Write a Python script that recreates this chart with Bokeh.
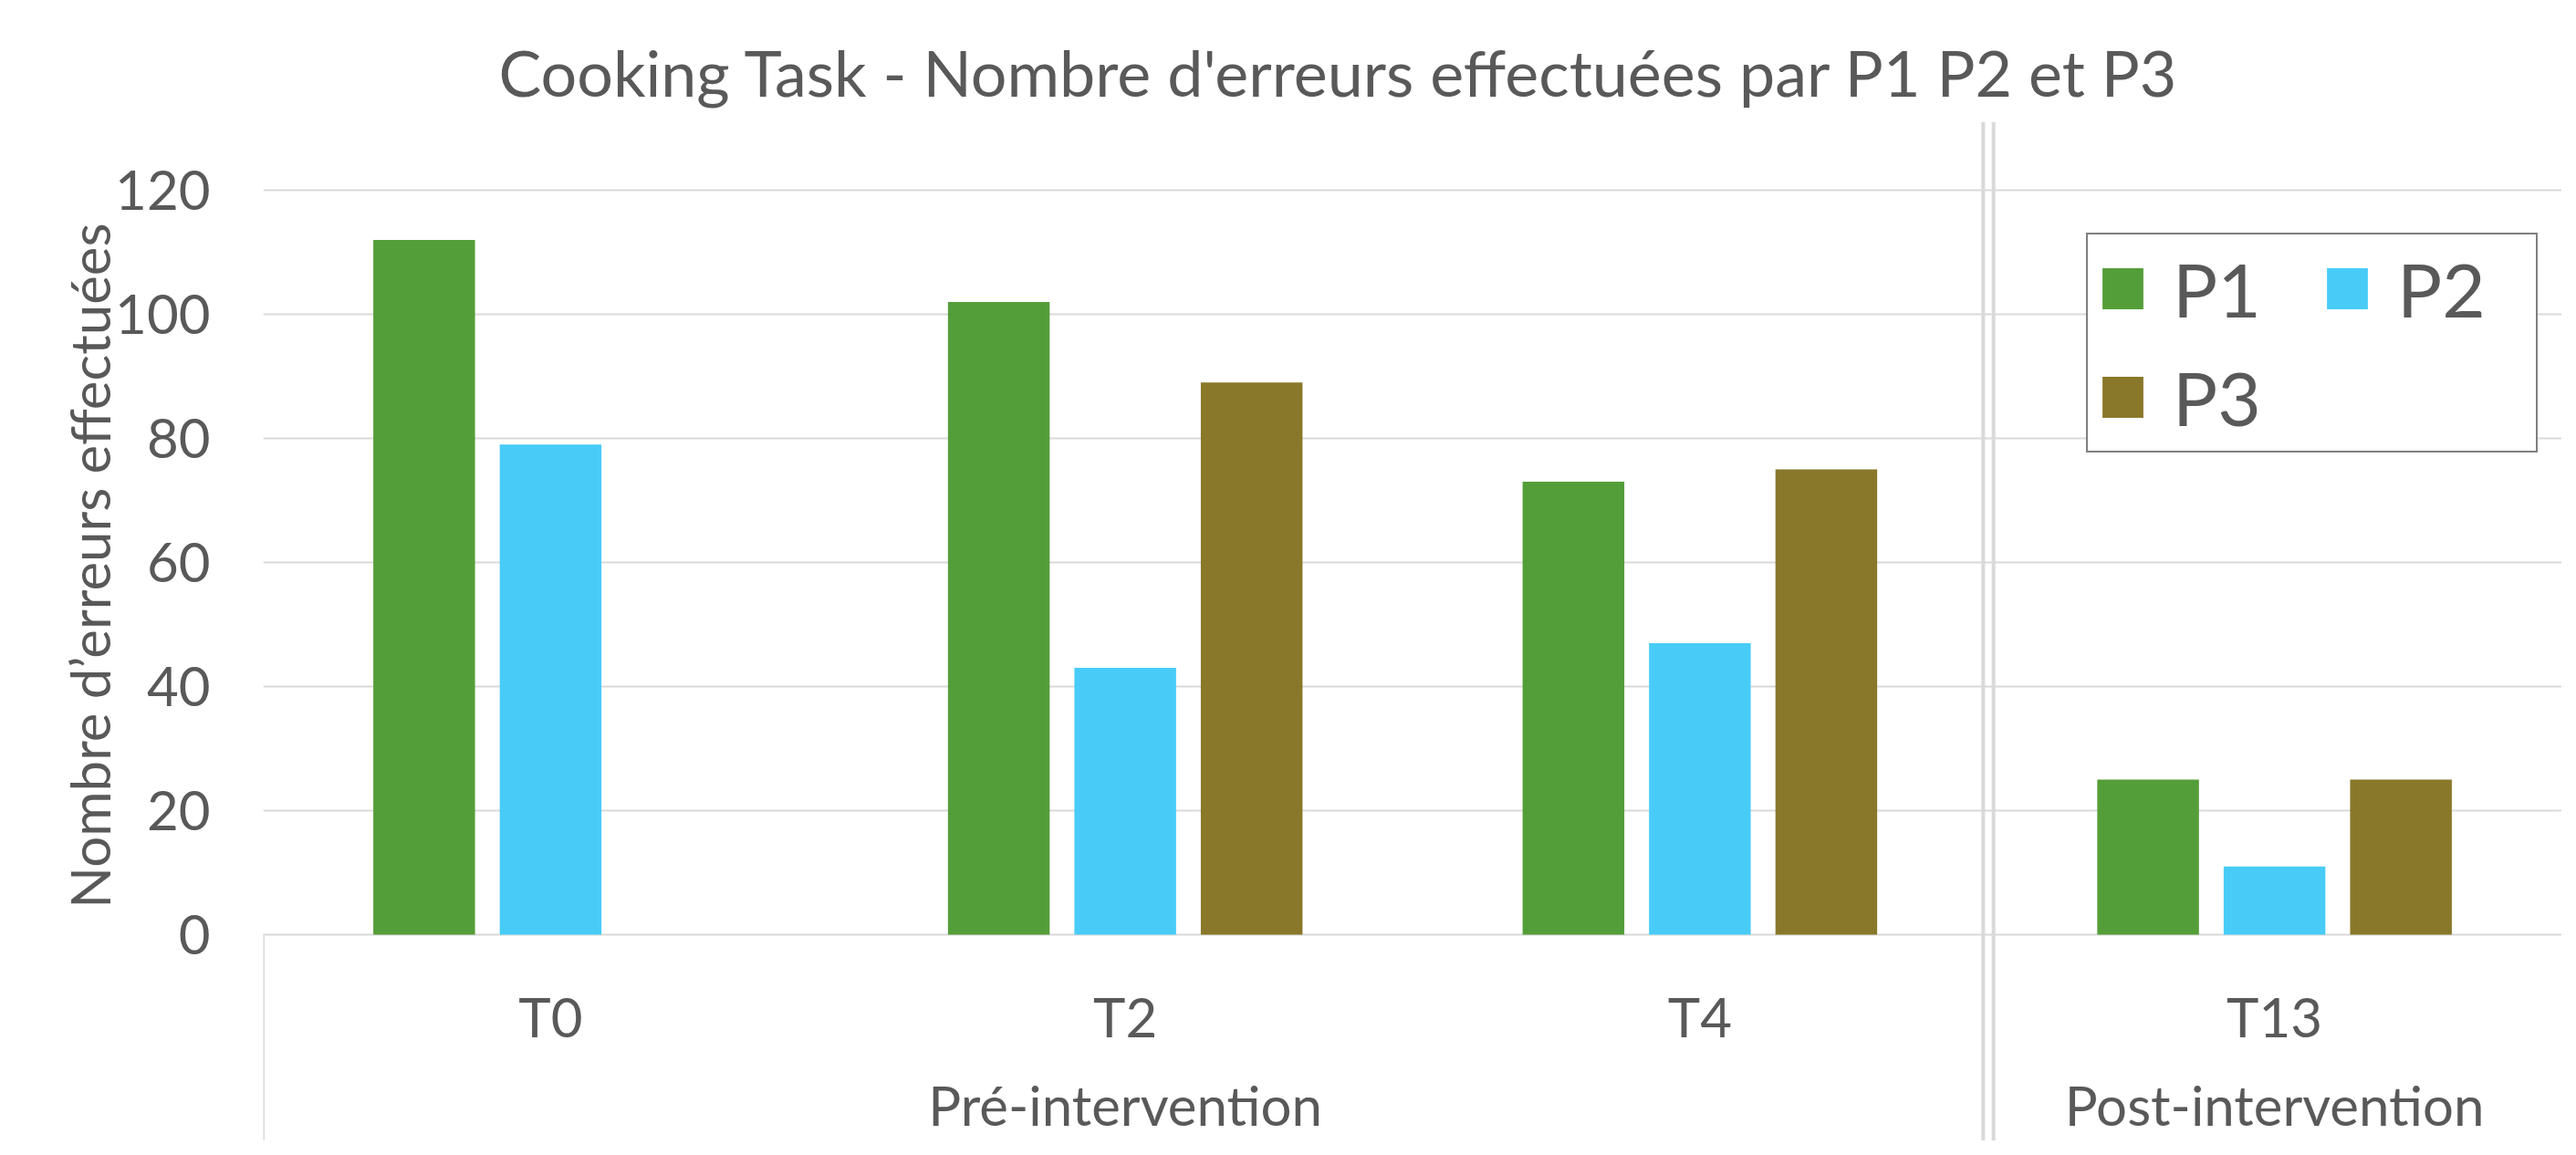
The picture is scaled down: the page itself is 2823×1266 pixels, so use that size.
import math
from bokeh.plotting import figure
from bokeh.models import (FactorRange, Range1d, FixedTicker, CategoricalAxis, Legend,
                          LegendItem, Title, ColumnDataSource, Spacer)
from bokeh.transform import dodge
from bokeh.layouts import row
from bokeh.embed import file_html
from bokeh.resources import INLINE

# ---------------- data ----------------
title_text = "Cooking Task - Nombre d'erreurs effectuées par P1 P2 et P3"
y_label = "Nombre d\u2019erreurs effectuées"
groups = ["Pré-intervention", "Pré-intervention", "Pré-intervention", "Post-intervention"]
times = ["T0", "T2", "T4", "T13"]
series = ["P1", "P2", "P3"]
p1_vals = [112, 102, 73, 25]
p2_vals = [79, 43, 47, 11]
p3_vals = [float("nan"), 89, 75, 25]
y_ticks = [0, 20, 40, 60, 80, 100, 120]
colors = ["#549E39", "#48CCF7", "#89782A"]

# ---------------- styling ----------------
FONT = "Lato"
TXT = "#595959"
GRID = "#D9D9D9"

factors = list(zip(groups, times))
src = ColumnDataSource(dict(x=factors, P1=p1_vals, P2=p2_vals, P3=p3_vals))

W, H = 2760, 1250
y_lo, y_hi = -33.24, 131.03

p = figure(width=W, height=H,
           x_range=FactorRange(*factors, group_padding=0, factor_padding=0, range_padding=0),
           y_range=Range1d(y_lo, y_hi),
           output_backend="svg", toolbar_location=None,
           min_border_left=241, min_border_right=0, min_border_top=133, min_border_bottom=0)
p.outline_line_color = None
p.background_fill_color = "white"
p.border_fill_color = "white"

# title
p.title.text = title_text
p.title.text_font = FONT
p.title.text_font_size = "70px"
p.title.text_font_style = "normal"
p.title.text_color = TXT
p.title.align = "left"
p.title.offset = 258
p.title.standoff = 25

# y axis
ya = p.yaxis[0]
ya.ticker = FixedTicker(ticks=y_ticks)
ya.axis_line_color = None
ya.major_tick_line_color = None
ya.minor_tick_line_color = None
ya.major_tick_out = 0
ya.major_tick_in = 0
ya.major_label_text_font = FONT
ya.major_label_text_font_size = "60px"
ya.major_label_text_color = TXT
ya.major_label_standoff = 58

p.ygrid.ticker = FixedTicker(ticks=y_ticks)
p.ygrid.grid_line_color = GRID
p.ygrid.grid_line_width = 2
p.xgrid.grid_line_color = None

# y axis title (side title so it is centred on the 0-120 span)
ytitle = Title(text=y_label, align="right", offset=111, vertical_align="bottom", standoff=-20,
               text_font=FONT, text_font_size="60px", text_font_style="normal", text_color=TXT)
p.add_layout(ytitle, "left")

# x axis (sub-category labels)
xa = p.xaxis[0]
xa.fixed_location = 0
xa.axis_line_color = None
xa.major_tick_line_color = None
xa.minor_tick_line_color = None
xa.major_tick_out = 0
xa.major_tick_in = 0
xa.separator_line_color = None
xa.major_label_text_font = FONT
xa.major_label_text_font_size = "60px"
xa.major_label_text_color = TXT
xa.major_label_standoff = 54
xa.group_text_color = None
xa.group_text_font = FONT
xa.group_text_font_size = "60px"

# x axis (group labels)
xa2 = CategoricalAxis(fixed_location=0)
xa2.axis_line_color = None
xa2.major_tick_line_color = None
xa2.minor_tick_line_color = None
xa2.major_tick_out = 0
xa2.major_tick_in = 0
xa2.separator_line_color = None
xa2.major_label_text_color = None
xa2.major_label_text_font = FONT
xa2.major_label_text_font_size = "60px"
xa2.major_label_standoff = 151
xa2.group_text_font = FONT
xa2.group_text_font_size = "60px"
xa2.group_text_color = TXT
xa2.group_text_font_style = "normal"
p.add_layout(xa2, "below")

# bars
offsets = [-0.22, 0.0, 0.22]
renderers = []
for s, off, c in zip(series, offsets, colors):
    r = p.vbar(x=dodge("x", off, range=p.x_range), top=s, width=0.177, source=src,
               fill_color=c, line_color=None)
    renderers.append(r)

# category axis frame lines
sep_src = ColumnDataSource(dict(
    x0=[["Pré-intervention", "T0", -0.5],
        ["Post-intervention", "T13", -0.507],
        ["Post-intervention", "T13", -0.489]],
    y0=[0, y_lo, y_lo],
    y1=[y_lo, y_hi, y_hi],
    w=[3, 4, 4],
))
p.segment(x0="x0", y0="y0", x1="x0", y1="y1", line_width="w", line_color=GRID, source=sep_src)

# legend
legend = Legend(items=[LegendItem(label=s, renderers=[r]) for s, r in zip(series, renderers)],
                location=(1998, 754), orientation="horizontal", ncols=2,
                border_line_color="black", border_line_width=2,
                background_fill_color="white", background_fill_alpha=1.0,
                label_text_font=FONT, label_text_font_size="82px", label_text_color=TXT,
                glyph_width=56, glyph_height=56, label_standoff=27,
                spacing=21, padding=10, margin=0, label_width=142)
p.add_layout(legend)

layout = row(Spacer(width=47, height=H), p)
html = file_html(layout, INLINE)
bg = ("background: linear-gradient(#EFEFEF,#EFEFEF) 0 0/100% 8px no-repeat, "
      "linear-gradient(#EFEFEF,#EFEFEF) 0 0/55px 100% no-repeat, #FFFFFF;")
html = html.replace("<body>", '<body style="' + bg + '">', 1)
open("out.html", "w").write(html)
